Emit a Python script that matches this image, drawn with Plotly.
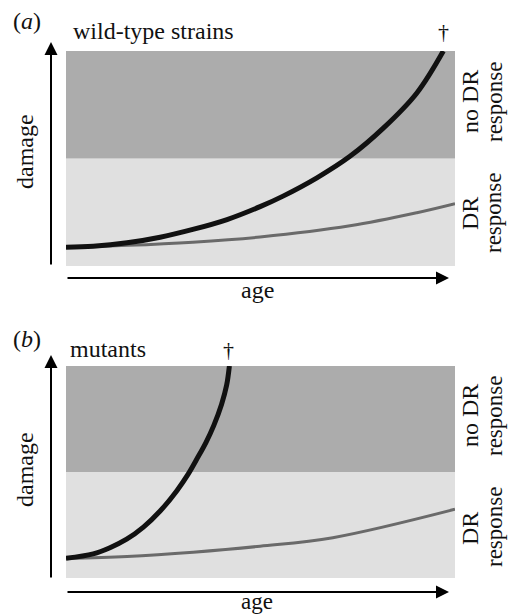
import plotly.graph_objects as go

# ---- data (schematic; x = age fraction, y = damage fraction) ----
age_wt_black = [0.0, 0.07, 0.157, 0.242, 0.326, 0.414, 0.499, 0.558, 0.645, 0.730, 0.815, 0.902, 0.970]
dmg_wt_black = [0.087, 0.092, 0.108, 0.134, 0.170, 0.216, 0.276, 0.325, 0.410, 0.510, 0.640, 0.805, 1.0]
age_wt_gray = [0.0, 0.157, 0.326, 0.499, 0.730, 0.902, 1.0]
dmg_wt_gray = [0.087, 0.096, 0.111, 0.135, 0.187, 0.248, 0.290]

age_mut_black = [0.0, 0.070, 0.113, 0.156, 0.199, 0.242, 0.285, 0.314, 0.336, 0.360, 0.380, 0.400, 0.413, 0.420]
dmg_mut_black = [0.093, 0.114, 0.143, 0.183, 0.240, 0.316, 0.412, 0.490, 0.560, 0.640, 0.720, 0.820, 0.910, 1.0]
age_mut_gray = [0.0, 0.157, 0.327, 0.499, 0.686, 1.0]
dmg_mut_gray = [0.093, 0.102, 0.122, 0.150, 0.190, 0.324]

zone_bounds = [0.0, 0.5, 1.0]  # DR response zone / no DR response zone

W, H = 509, 615
FONT = "Liberation Serif, Times New Roman, serif"
FS = 24

def px(x):
    return x / W

def py(y):
    return 1 - y / H

fig = go.Figure()

x_dom = [px(66), px(455)]
ya_dom = [py(266), py(51)]
yb_dom = [py(578), py(366)]

fig.update_layout(
    width=W, height=H,
    margin=dict(l=0, r=0, t=0, b=0),
    paper_bgcolor="white", plot_bgcolor="white",
    showlegend=False,
    xaxis=dict(domain=x_dom, range=[0, 1], visible=False, fixedrange=True),
    yaxis=dict(domain=ya_dom, range=[0, 1], visible=False, fixedrange=True),
    xaxis2=dict(domain=x_dom, range=[0, 1], visible=False, anchor="y2", fixedrange=True),
    yaxis2=dict(domain=yb_dom, range=[0, 1], visible=False, anchor="x2", fixedrange=True),
)

# zones
for xr, yr in [("x", "y"), ("x2", "y2")]:
    fig.add_shape(type="rect", xref=xr, yref=yr, x0=0, x1=1, y0=zone_bounds[0], y1=zone_bounds[1],
                  fillcolor="#e0e0e0", line_width=0, layer="below")
    fig.add_shape(type="rect", xref=xr, yref=yr, x0=0, x1=1, y0=zone_bounds[1], y1=zone_bounds[2],
                  fillcolor="#acacac", line_width=0, layer="below")

# curves
fig.add_trace(go.Scatter(x=age_wt_gray, y=dmg_wt_gray, mode="lines", line=dict(color="#6a6a6a", width=3, shape="spline"),
                         xaxis="x", yaxis="y", cliponaxis=False))
fig.add_trace(go.Scatter(x=age_wt_black, y=dmg_wt_black, mode="lines", line=dict(color="#111111", width=5, shape="spline"),
                         xaxis="x", yaxis="y", cliponaxis=False))
fig.add_trace(go.Scatter(x=age_mut_gray, y=dmg_mut_gray, mode="lines", line=dict(color="#6a6a6a", width=3, shape="spline"),
                         xaxis="x2", yaxis="y2", cliponaxis=False))
fig.add_trace(go.Scatter(x=age_mut_black, y=dmg_mut_black, mode="lines", line=dict(color="#111111", width=5, shape="spline"),
                         xaxis="x2", yaxis="y2", cliponaxis=False))

def arrow(tipx, tipy, tailx, taily):
    fig.add_annotation(x=px(tipx), y=py(tipy), xref="paper", yref="paper",
                       ax=tailx - tipx, ay=taily - tipy, axref="pixel", ayref="pixel",
                       showarrow=True, arrowhead=2, arrowsize=1.3, arrowwidth=2,
                       arrowcolor="black", text="")

# axes arrows
arrow(51, 42, 51, 266)
arrow(449, 278, 66, 278)
arrow(51, 355, 51, 579)
arrow(449, 592, 66, 592)

def label(x, y, text, angle=0, xanchor="center", size=FS):
    fig.add_annotation(x=px(x), y=py(y), xref="paper", yref="paper", text=text,
                       showarrow=False, textangle=angle, xanchor=xanchor, yanchor="middle",
                       font=dict(family=FONT, size=size, color="#111111"))

# panel a
label(11, 21, "(<i>a</i>)", xanchor="left")
label(71, 31, "wild-type strains", xanchor="left")
label(443, 31, "†", size=22)
label(25, 152, "damage", angle=-90)
label(257, 290, "age")
label(470, 102, "no DR", angle=-90)
label(494, 102, "response", angle=-90, size=23)
label(470, 214, "DR", angle=-90)
label(494, 213, "response", angle=-90, size=23)

# panel b
label(11, 339, "(<i>b</i>)", xanchor="left")
label(68, 349, "mutants", xanchor="left")
label(228, 349, "†", size=22)
label(25, 470, "damage", angle=-90)
label(257, 601, "age", size=23)
label(470, 416, "no DR", angle=-90)
label(494, 416, "response", angle=-90, size=23)
label(470, 529, "DR", angle=-90)
label(494, 527, "response", angle=-90, size=23)

fig.write_html(
    "out.html",
    config={"displayModeBar": False},
    post_script="document.body.style.margin='0';document.body.style.overflow='hidden';",
)
